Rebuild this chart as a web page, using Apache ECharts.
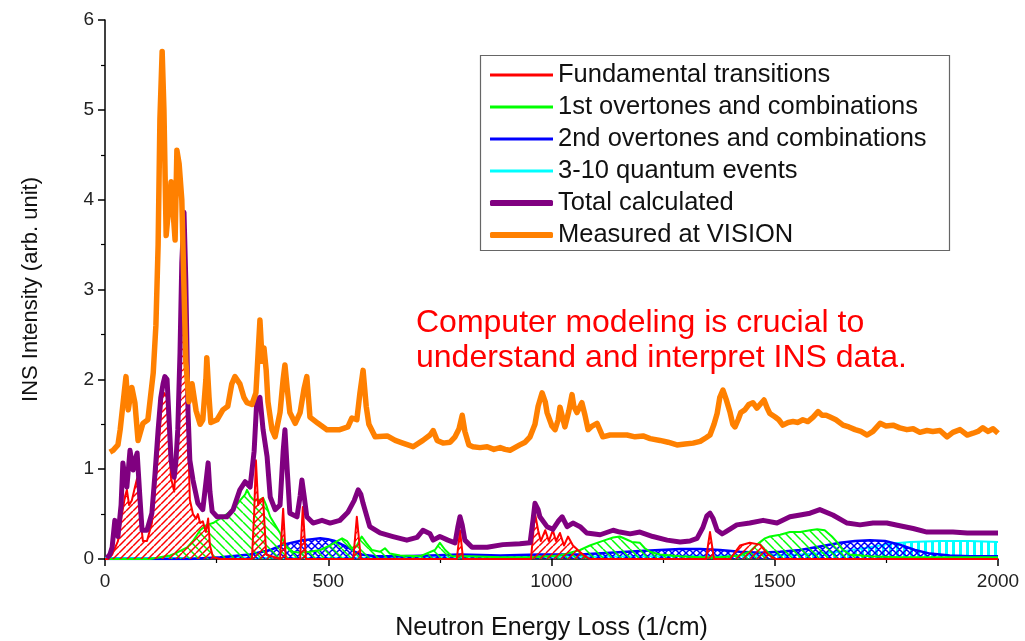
<!DOCTYPE html>
<html>
<head>
<meta charset="utf-8">
<script src="https://cdn.jsdelivr.net/npm/echarts@6/dist/echarts.min.js"></script>
<style>html,body{margin:0;padding:0;background:#fff}#c{width:1025px;height:641px}</style>
</head>
<body>
<div id="c"></div>
<script>
// ---- data (x in 1/cm, y in arb. unit) ----
const measuredX = [11,18,29,34,43,47,52,60,67,74,85,96,108,114,119,123,128,132,137,141,148,152,157,161,166,172,177,181,184,188,195,204,213,219,226,228,233,237,251,264,275,284,291,302,311,318,329,338,343,347,352,356,361,365,374,381,392,399,403,408,414,426,437,446,452,459,477,497,526,544,553,564,571,578,585,591,605,632,650,667,690,712,728,735,744,757,773,784,793,800,806,815,824,840,856,871,885,896,907,918,929,941,952,963,970,979,986,990,1001,1008,1015,1019,1026,1030,1039,1046,1050,1057,1064,1068,1075,1082,1091,1102,1115,1131,1153,1169,1187,1205,1221,1243,1261,1281,1299,1317,1333,1346,1355,1364,1371,1377,1384,1391,1400,1406,1411,1418,1424,1433,1442,1451,1460,1467,1476,1483,1489,1501,1509,1518,1530,1541,1552,1563,1574,1586,1597,1606,1615,1624,1637,1653,1666,1680,1693,1707,1720,1736,1749,1765,1780,1796,1810,1825,1841,1854,1870,1886,1899,1915,1931,1944,1955,1966,1978,1989,2000];
const measuredY = [1.19,1.21,1.27,1.44,1.85,2.03,1.66,1.91,1.74,1.32,1.51,1.55,2.07,2.6,3.5,4.9,5.65,5.0,3.6,3.58,4.2,3.9,3.55,4.55,4.4,4.0,3.0,2.2,2.0,1.75,1.95,1.65,1.5,1.55,2.0,2.24,1.8,1.52,1.55,1.66,1.7,1.95,2.03,1.95,1.8,1.74,1.72,1.85,2.3,2.66,2.2,2.35,2.1,1.75,1.44,1.36,1.63,2.0,2.16,1.9,1.63,1.51,1.63,1.9,2.03,1.58,1.51,1.44,1.44,1.47,1.57,1.55,1.85,2.1,1.7,1.5,1.36,1.37,1.32,1.29,1.25,1.32,1.38,1.43,1.32,1.29,1.3,1.36,1.45,1.6,1.42,1.27,1.25,1.24,1.25,1.22,1.24,1.22,1.21,1.24,1.27,1.3,1.36,1.5,1.7,1.85,1.75,1.63,1.48,1.44,1.55,1.69,1.55,1.47,1.65,1.83,1.7,1.63,1.7,1.74,1.6,1.44,1.48,1.51,1.36,1.38,1.38,1.38,1.36,1.37,1.34,1.32,1.3,1.27,1.28,1.29,1.31,1.35,1.38,1.5,1.62,1.8,1.88,1.78,1.63,1.5,1.47,1.55,1.63,1.66,1.72,1.74,1.68,1.72,1.77,1.68,1.62,1.58,1.55,1.49,1.52,1.53,1.52,1.55,1.53,1.58,1.64,1.6,1.6,1.58,1.55,1.49,1.47,1.44,1.42,1.38,1.42,1.51,1.48,1.49,1.46,1.44,1.45,1.41,1.43,1.42,1.43,1.36,1.41,1.44,1.38,1.4,1.42,1.46,1.42,1.45,1.4];

const totalX = [4,11,16,22,29,36,40,45,49,56,63,67,72,78,83,94,105,112,119,125,130,134,139,143,148,155,159,163,168,172,177,181,186,190,197,208,219,226,231,235,240,251,273,287,302,314,325,334,340,347,354,363,370,381,392,399,403,408,414,430,437,441,446,452,466,486,504,526,544,558,567,573,578,593,616,645,676,699,712,728,735,750,768,784,790,795,800,806,822,856,891,929,952,959,963,970,974,990,1003,1015,1024,1035,1048,1064,1079,1109,1138,1153,1176,1198,1227,1259,1288,1310,1326,1339,1348,1355,1362,1371,1382,1389,1415,1444,1474,1505,1534,1557,1579,1601,1630,1662,1691,1720,1751,1780,1810,1841,1870,1899,1931,1960,2000];
const totalY = [0.01,0.05,0.13,0.43,0.25,0.6,1.07,0.9,0.8,1.21,0.99,1.1,1.18,0.7,0.32,0.32,0.51,0.95,1.44,1.8,1.95,2.03,2.0,1.6,1.1,0.91,1.1,1.44,2.3,3.3,3.86,3.1,1.63,1.1,0.88,0.62,0.55,0.85,1.07,0.75,0.53,0.47,0.47,0.55,0.77,0.86,0.8,1.2,1.77,1.8,1.44,1.14,0.69,0.55,0.6,1.2,1.44,1.0,0.51,0.47,0.7,0.88,0.7,0.47,0.4,0.43,0.4,0.43,0.52,0.65,0.77,0.72,0.62,0.36,0.29,0.25,0.21,0.24,0.32,0.28,0.21,0.25,0.21,0.18,0.35,0.47,0.38,0.21,0.13,0.13,0.16,0.17,0.18,0.45,0.62,0.55,0.47,0.36,0.33,0.42,0.47,0.36,0.4,0.36,0.29,0.27,0.32,0.3,0.28,0.3,0.25,0.21,0.19,0.2,0.23,0.35,0.48,0.51,0.45,0.32,0.28,0.3,0.38,0.4,0.43,0.4,0.47,0.49,0.51,0.55,0.49,0.4,0.38,0.4,0.4,0.37,0.34,0.3,0.3,0.3,0.29,0.29,0.29];

const fundX = [0,7,16,29,38,45,49,54,60,67,72,78,85,94,105,114,121,128,132,139,143,148,155,161,168,172,177,181,186,190,197,204,208,213,219,226,231,235,242,258,329,334,338,343,347,354,361,392,399,405,437,443,450,556,564,573,788,795,802,954,963,970,976,986,994,1003,1010,1019,1028,1037,1048,1059,1073,1086,1346,1355,1364,1400,1422,1444,1467,1485,1501,2000];
const fundY = [0,0,0.05,0.2,0.5,0.7,0.77,0.6,0.65,0.8,0.9,0.5,0.2,0.2,0.4,0.9,1.3,1.8,1.85,1.8,1.4,0.9,0.75,1.3,2.1,3.0,3.5,2.8,1.4,0.66,0.5,0.45,0.5,0.4,0.42,0.3,0.45,0.15,0.02,0,0,0.5,1.1,0.6,0.65,0.68,0.05,0,0.56,0,0,0.58,0,0,0.47,0,0,0.32,0,0,0.51,0.32,0.2,0.32,0.2,0.32,0.2,0.29,0.15,0.25,0.15,0.1,0.04,0,0,0.3,0,0,0.15,0.18,0.16,0.05,0,0];

const overtone1X = [0,101,123,146,161,184,197,213,228,242,264,287,302,314,318,325,332,343,354,361,370,381,392,401,408,421,437,459,482,504,520,531,542,553,564,575,585,598,616,627,638,661,705,739,750,762,777,817,885,952,1019,1064,1086,1102,1120,1138,1153,1167,1180,1198,1209,1221,1243,1288,1333,1377,1422,1444,1460,1478,1489,1512,1534,1557,1579,1595,1612,1628,1639,1653,1668,1713,1780,1888,2000];
const overtone1Y = [0,0,0.02,0.04,0.07,0.13,0.2,0.32,0.38,0.4,0.47,0.55,0.65,0.72,0.77,0.7,0.66,0.65,0.68,0.6,0.47,0.38,0.29,0.18,0.13,0.08,0.07,0.08,0.1,0.15,0.2,0.23,0.2,0.12,0.15,0.25,0.18,0.1,0.08,0.12,0.06,0.04,0.03,0.1,0.18,0.1,0.03,0.03,0.02,0.02,0.04,0.1,0.15,0.18,0.21,0.24,0.25,0.22,0.19,0.18,0.12,0.08,0.05,0.03,0.02,0.02,0.04,0.08,0.16,0.23,0.25,0.27,0.3,0.3,0.32,0.33,0.32,0.25,0.19,0.1,0.05,0.03,0.02,0.02,0.02];

const overtone2X = [0,190,258,325,370,399,426,443,464,482,499,515,531,544,560,575,605,661,728,795,885,974,1064,1131,1198,1243,1288,1333,1377,1422,1467,1512,1557,1601,1646,1680,1713,1747,1780,1814,1848,1892,1937,2000];
const overtone2Y = [0,0,0.02,0.05,0.1,0.16,0.19,0.21,0.22,0.23,0.22,0.2,0.16,0.13,0.08,0.05,0.03,0.03,0.04,0.05,0.04,0.05,0.05,0.07,0.09,0.1,0.11,0.11,0.1,0.08,0.07,0.08,0.1,0.14,0.18,0.2,0.21,0.2,0.16,0.1,0.06,0.04,0.03,0.03];

const quantumX = [0,437,885,1221,1444,1557,1646,1713,1758,1803,1870,1937,2000];
const quantumY = [0.01,0.01,0.02,0.03,0.04,0.05,0.08,0.13,0.17,0.19,0.2,0.2,0.19];

const seriesNames = ['Fundamental transitions','1st overtones and combinations','2nd overtones and combinations','3-10 quantum events','Total calculated','Measured at VISION'];
const annotationLines = ['Computer modeling is crucial to','understand and interpret INS data.'];

function zip(xs, ys){ return xs.map((x,i)=>[x, ys[i]]); }

function hatch(color, type, size, lw){
  const c = document.createElement('canvas');
  c.width = size; c.height = size;
  const g = c.getContext('2d');
  g.strokeStyle = color; g.fillStyle = color; g.lineWidth = lw;
  g.beginPath();
  if (type === '/' || type === 'x') {
    for (let k=-1;k<=1;k++){ g.moveTo(k*size, size); g.lineTo(k*size+size, 0); }
  }
  if (type === '\\' || type === 'x') {
    for (let k=-1;k<=1;k++){ g.moveTo(k*size, 0); g.lineTo(k*size+size, size); }
  }
  g.stroke();
  if (type === '|') { g.fillRect(0,0,lw,size); }
  return {image: c, repeat: 'repeat'};
}

const FONT = 'Liberation Sans, Arial, sans-serif';
const chart = echarts.init(document.getElementById('c'), null, {renderer:'canvas'});

function lineSeries(name, data, color, width, area, z){
  const s = {
    name, type:'line', data, showSymbol:false, symbol:'none', smooth:false,
    color, lineStyle:{color, width, join:'round'}, z, animation:false
  };
  if (area) s.areaStyle = {color: area, opacity: 1};
  return s;
}

const option = {
  animation:false,
  grid:{left:105, right:27, top:20, bottom:82, containLabel:false, outerBoundsMode:'none'},
  xAxis:{
    type:'value', min:0, max:2000, interval:500,
    name:'Neutron Energy Loss (1/cm)', nameLocation:'middle', nameGap:57,
    nameTextStyle:{fontFamily:FONT, fontSize:25, color:'#111'},
    axisLine:{onZero:false, lineStyle:{color:'#000', width:1.5}},
    axisTick:{length:7, lineStyle:{color:'#000', width:1.5}},
    minorTick:{show:true, splitNumber:2, length:4, lineStyle:{color:'#000', width:1.2}},
    axisLabel:{fontFamily:FONT, fontSize:19, color:'#222', margin:13, formatter:(v)=>String(v)},
    splitLine:{show:false}
  },
  yAxis:{
    type:'value', min:0, max:6, interval:1,
    name:'INS Intensity (arb. unit)', nameLocation:'middle', nameGap:63,
    nameTextStyle:{fontFamily:FONT, fontSize:22, color:'#111'},
    axisLine:{show:true, lineStyle:{color:'#000', width:1.5}},
    axisTick:{show:true, length:7, lineStyle:{color:'#000', width:1.5}},
    minorTick:{show:true, splitNumber:2, length:4, lineStyle:{color:'#000', width:1.2}},
    axisLabel:{fontFamily:FONT, fontSize:19, color:'#222', margin:11},
    splitLine:{show:false}
  },
  legend:[
    {orient:'vertical', left:490, top:62, padding:0, itemWidth:63, itemHeight:3, itemGap:6, icon:'rect',
     selectedMode:false, textStyle:{fontFamily:FONT, fontSize:25.5, color:'#111'},
     data:seriesNames.slice(0,4)},
    {orient:'vertical', left:490, top:190, padding:0, itemWidth:63, itemHeight:6, itemGap:6, icon:'roundRect',
     selectedMode:false, textStyle:{fontFamily:FONT, fontSize:25.5, color:'#111'},
     data:seriesNames.slice(4)}
  ],
  graphic:[
    {type:'rect', left:478, top:53, shape:{width:469, height:195}, style:{fill:'none', stroke:'#666', lineWidth:1.2}, z:0},
    {type:'text', left:416, top:306, style:{text:annotationLines.join('\n'), fill:'#ff0000', font:'32px '+FONT, lineHeight:35}}
  ],
  series:[
    lineSeries(seriesNames[3], zip(quantumX, quantumY), '#00ffff', 2, hatch('#00ffff','|',7,3), 2),
    lineSeries(seriesNames[2], zip(overtone2X, overtone2Y), '#0000ff', 2.5, hatch('#0000ff','x',7,1.5), 3),
    lineSeries(seriesNames[1], zip(overtone1X, overtone1Y), '#00ff00', 2, hatch('#00ff00','\\',9,1.5), 4),
    lineSeries(seriesNames[0], zip(fundX, fundY), '#ff0000', 2, hatch('#ff0000','/',7,1.5), 5),
    lineSeries(seriesNames[4], zip(totalX, totalY), '#800080', 5, null, 6),
    lineSeries(seriesNames[5], zip(measuredX, measuredY), '#ff8000', 5.5, null, 7)
  ]
};
chart.setOption(option);
</script>
</body>
</html>
